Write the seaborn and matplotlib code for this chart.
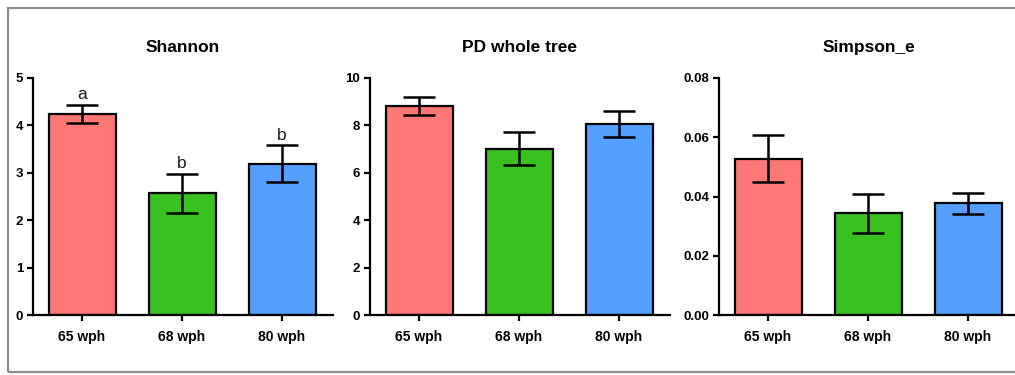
import matplotlib
matplotlib.use("Agg")
import matplotlib.pyplot as plt
from matplotlib.patches import Rectangle
import numpy as np
import pandas as pd
import seaborn as sns

# Alpha-diversity summary per group (mean and SEM)
groups = ["65 wph", "68 wph", "80 wph"]
colors = ["#FF7878", "#38C120", "#559FFF"]

shannon_mean = [4.25, 2.57, 3.19]
shannon_sem = [0.19, 0.41, 0.39]
shannon_letters = ["a", "b", "b"]

pd_mean = [8.82, 7.02, 8.07]
pd_sem = [0.38, 0.71, 0.54]

simpson_mean = [0.0527, 0.0343, 0.0377]
simpson_sem = [0.0079, 0.0067, 0.0035]

panels = [
    ("Shannon", shannon_mean, shannon_sem, 5, [0, 1, 2, 3, 4, 5], "{:.0f}", shannon_letters),
    ("PD whole tree", pd_mean, pd_sem, 10, [0, 2, 4, 6, 8, 10], "{:.0f}", None),
    ("Simpson_e", simpson_mean, simpson_sem, 0.08, [0, 0.02, 0.04, 0.06, 0.08], "{:.2f}", None),
]

sns.set_theme(style="ticks")
plt.rcParams["font.family"] = ["Liberation Sans", "DejaVu Sans"]
plt.rcParams["text.color"] = "black"
plt.rcParams["xtick.color"] = "black"
plt.rcParams["ytick.color"] = "black"
plt.rcParams["axes.labelcolor"] = "black"

W, H = 1015, 375
fig = plt.figure(figsize=(W / 100, H / 100), dpi=100)
fig.patch.set_facecolor("white")

# Outer grey frame
fig.patches.append(Rectangle((8 / W, 3 / H), 1.1, (372 - 8) / H,
                             transform=fig.transFigure, fill=False,
                             edgecolor="#8c8c8c", linewidth=1.6, clip_on=False))

lefts = [33, 370, 719]
for (title, means, sems, ymax, yticks, fmt, letters), left in zip(panels, lefts):
    ax = fig.add_axes([left / W, (H - 315) / H, 300 / W, (315 - 78) / H])
    df = pd.DataFrame({"group": groups, "value": means})
    sns.barplot(data=df, x="group", y="value", hue="group", palette=colors,
                width=0.67, edgecolor="black", linewidth=1.6, saturation=1,
                legend=False, ax=ax)
    ax.errorbar(np.arange(len(groups)), means, yerr=sems, fmt="none",
                ecolor="black", elinewidth=1.8, capsize=11.5, capthick=1.8,
                zorder=5)
    if letters:
        for i, (m, s, lab) in enumerate(zip(means, sems, letters)):
            ax.annotate(lab, (i, m + s), xytext=(0, 2), textcoords="offset points",
                        ha="center", va="bottom", fontsize=12.5, color="#1a1a1a")
    ax.set_xlim(-0.49, 2.51)
    ax.set_ylim(0, ymax)
    ax.set_yticks(yticks)
    ax.set_yticklabels([fmt.format(v) for v in yticks], fontweight="bold", fontsize=9.5)
    ax.set_xticks(range(len(groups)))
    ax.set_xticklabels(groups, fontweight="bold", fontsize=10)
    ax.set_xlabel("")
    ax.set_ylabel("")
    ax.set_title(title, fontweight="bold", fontsize=12.5, pad=19, color="black")
    for sp in ["top", "right"]:
        ax.spines[sp].set_visible(False)
    for sp in ["left", "bottom"]:
        ax.spines[sp].set_linewidth(1.6)
        ax.spines[sp].set_color("black")
    ax.tick_params(axis="both", length=4, width=1.6, color="black", labelcolor="black",
                   direction="out")
    ax.tick_params(axis="x", pad=7)
    ax.tick_params(axis="y", pad=3)
    ax.set_facecolor("white")

fig.savefig("out.png", dpi=100, facecolor="white")
